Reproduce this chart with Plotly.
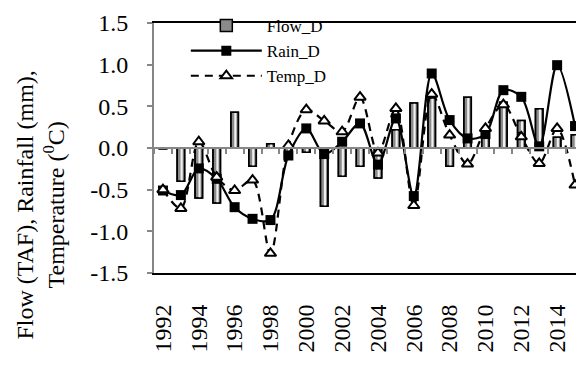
import plotly.graph_objects as go

years = list(range(1992, 2016))
flow_d = [-0.01, -0.40, -0.60, -0.66, 0.43, -0.22, 0.05, -0.12, -0.05, -0.70, -0.34, -0.22,
          -0.36, 0.22, 0.54, 0.60, -0.22, 0.61, 0.21, 0.55, 0.33, 0.47, 0.13, 0.16]
rain_d = [-0.51, -0.565, -0.245, -0.37, -0.71, -0.85, -0.865, -0.09, 0.235, -0.073, 0.075, 0.295,
          -0.20, 0.355, -0.577, 0.894, 0.335, 0.115, 0.167, 0.694, 0.614, 0.02, 0.994, 0.263]
temp_d = [-0.50, -0.725, 0.075, -0.35, -0.51, -0.385, -1.264, 0.03, 0.46, 0.325, 0.195, 0.61,
          -0.06, 0.475, -0.69, 0.646, 0.155, -0.193, 0.235, 0.52, 0.134, -0.185, 0.235, -0.445]

xtick_vals = list(range(1992, 2015, 2))
xtick_text = [str(v) for v in xtick_vals]
ytick_vals = [-1.5, -1.0, -0.5, 0.0, 0.5, 1.0, 1.5]
ytick_text = ["-1.5", "-1.0", "-0.5", "0.0", "0.5", "1.0", "1.5"]

FONT = "Liberation Serif, Times New Roman, DejaVu Serif, serif"
GRAY = "#868686"

fig = go.Figure()

# bars: base (legend), highlight stripe, outline
fig.add_trace(go.Bar(x=years, y=flow_d, name="Flow_D", width=0.42, offset=-0.21,
                     marker=dict(color="#8a8a8a", line=dict(color="black", width=1.5))))
fig.add_trace(go.Bar(x=years, y=flow_d, showlegend=False, width=0.12, offset=-0.02,
                     marker=dict(color="#f0f0f0", line=dict(width=0)), hoverinfo="skip"))
fig.add_trace(go.Bar(x=years, y=flow_d, showlegend=False, width=0.42, offset=-0.21,
                     marker=dict(color="rgba(0,0,0,0)", line=dict(color="black", width=1.5)),
                     hoverinfo="skip"))

fig.add_trace(go.Scatter(x=years, y=rain_d, name="Rain_D", mode="lines+markers",
                         line=dict(color="black", width=2.2, shape="spline", smoothing=0.9),
                         marker=dict(symbol="square", size=10, color="black")))
fig.add_trace(go.Scatter(x=years, y=temp_d, name="Temp_D", mode="lines+markers",
                         line=dict(color="black", width=2.2, dash="8px,6px", shape="spline", smoothing=0.9),
                         marker=dict(symbol="triangle-up", size=10, color="white",
                                     line=dict(color="black", width=2))))

# invisible trace to carry the zero-crossing category axis (tick marks at y=0)
fig.add_trace(go.Scatter(x=years, y=[None] * len(years), xaxis="x2", showlegend=False,
                         hoverinfo="skip", mode="lines"))

fig.update_layout(
    width=584, height=378,
    margin=dict(l=146, r=8, t=15, b=113, autoexpand=False),
    paper_bgcolor="white", plot_bgcolor="white",
    barmode="overlay",
    font=dict(family=FONT, size=24, color="black"),
    showlegend=True,
    legend=dict(x=0.074, y=1.06, xanchor="left", yanchor="top",
                font=dict(family=FONT, size=17, color="black"),
                bgcolor="rgba(255,255,255,0)", tracegroupgap=0, itemwidth=71),
    xaxis=dict(range=[1991.5, 2015.5], tickvals=xtick_vals, ticktext=xtick_text, tickangle=-90,
               ticks="outside", ticklen=20, tickcolor="rgba(0,0,0,0)", automargin=False,
               showline=True, linecolor="black", linewidth=2, mirror=True,
               showgrid=False, zeroline=False, tickfont=dict(family=FONT, size=24)),
    xaxis2=dict(range=[1991.5, 2015.5], overlaying="x", anchor="free", position=0.5,
                showticklabels=False, tick0=1991.5, dtick=1, ticks="outside", ticklen=5,
                tickcolor=GRAY, tickwidth=1.5, showline=True, linecolor=GRAY, linewidth=2,
                showgrid=False, zeroline=False, automargin=False),
    yaxis=dict(range=[-1.5, 1.5], tickvals=ytick_vals, ticktext=ytick_text,
               ticks="outside", ticklen=5, tickcolor=GRAY, tickwidth=1.5, automargin=False,
               showline=True, linecolor=GRAY, linewidth=2,
               showgrid=False, zeroline=False, ticklabelstandoff=14,
               tickfont=dict(family=FONT, size=24)),
    annotations=[
        dict(text="Flow (TAF), Rainfall (mm),<br>Temperature (<sup>0</sup>C)", textangle=-90,
             xref="paper", yref="paper", x=-0.265, y=0.27, xanchor="center", yanchor="middle",
             showarrow=False, font=dict(family=FONT, size=24, color="black")),
        dict(text="Fig.3 Chart 3-D", xref="paper", yref="paper", x=0.45, y=-0.39,
             xanchor="center", yanchor="top", showarrow=False,
             font=dict(family=FONT, size=22, color="black")),
    ],
)

fig.write_html("out.html")
